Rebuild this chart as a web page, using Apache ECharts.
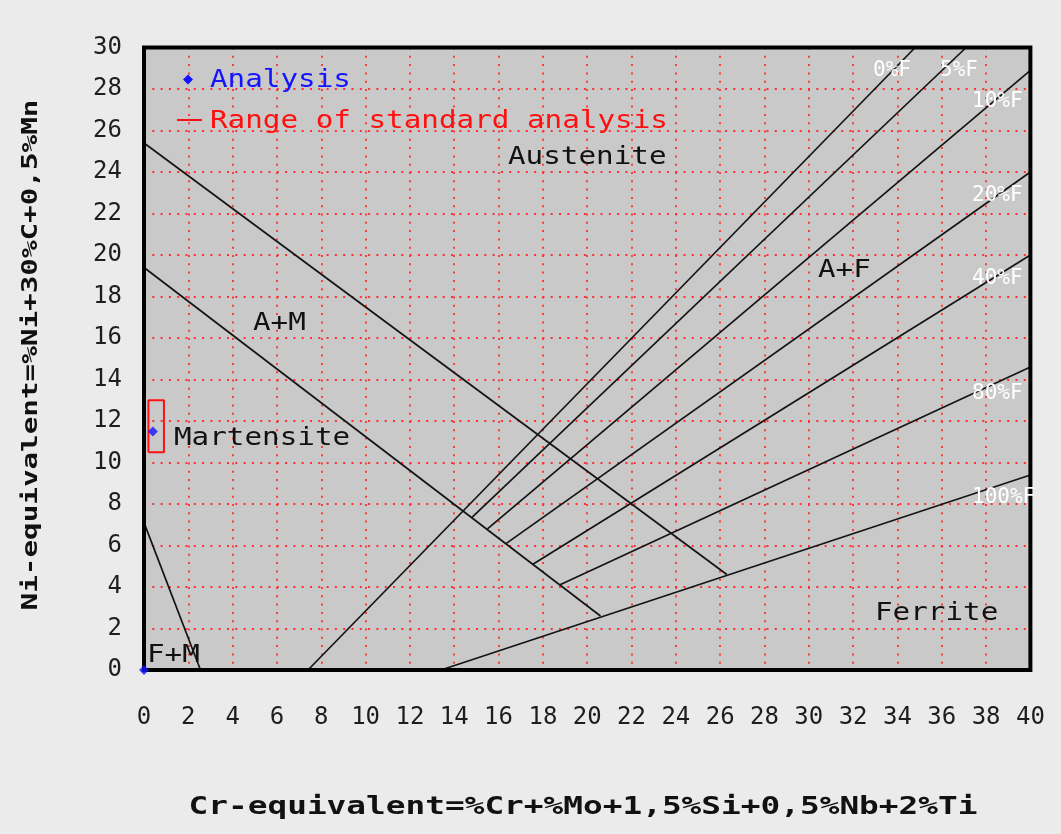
<!DOCTYPE html>
<html>
<head>
<meta charset="utf-8">
<script src="https://cdn.jsdelivr.net/npm/echarts@6/dist/echarts.min.js"></script>
<style>
  html, body { margin: 0; padding: 0; background: #ebebeb; }
  #chart { width: 1061px; height: 834px; }
</style>
</head>
<body>
<div id="chart"></div>
<script>
// Schaeffler diagram: Cr-equivalent (x) vs Ni-equivalent (y)

// Axis ranges
const crRange = [0, 40];
const niRange = [0, 30];
const tickStep = 2;

// Phase boundaries, each as [Cr-eq, Ni-eq] end points
const martensiteUpper = [[0, 25.4], [26.3, 4.6]];
const martensiteLower = [[0, 19.4], [20.6, 2.6]];
const ferriteMartensite = [[0, 7.1], [2.55, 0]];

// Iso-ferrite lines
const isoFerriteNames = ['0%F', '5%F', '10%F', '20%F', '40%F', '80%F', '100%F'];
const isoFerrite0 = [[7.4, 0], [34.8, 30]];
const isoFerrite5 = [[14.8, 7.35], [37.1, 30]];
const isoFerrite10 = [[15.5, 6.8], [40, 28.9]];
const isoFerrite20 = [[16.35, 6.1], [40, 24.0]];
const isoFerrite40 = [[17.55, 5.1], [40, 20.0]];
const isoFerrite80 = [[18.75, 4.1], [40, 14.6]];
const isoFerrite100 = [[13.4, 0], [40, 9.4]];

// Measured analysis and range of the standard analysis
const analysisPoints = [[0.4, 11.5], [0, 0]];
const rangeCr = [0.2, 0.9];
const rangeNi = [10.5, 13.0];

// Texts
const regionNames = ['Austenite', 'A+F', 'A+M', 'Martensite', 'Ferrite', 'F+M'];
const legendNames = ['Analysis', 'Range of standard analysis'];
const xTitle = 'Cr-equivalent=%Cr+%Mo+1,5%Si+0,5%Nb+2%Ti';
const yTitle = 'Ni-equivalent=%Ni+30%C+0,5%Mn';

// Plot frame in pixels
const G = { left: 144, top: 47.5, width: 886.4, height: 622.5 };

const MONO = '"DejaVu Sans Mono", "Liberation Mono", monospace';

function label(text, x, y, opts) {
  opts = opts || {};
  return {
    type: 'text', x: x, y: y, z: opts.z || 40,
    scaleX: opts.scaleX || 1,
    rotation: opts.rotation || 0,
    silent: true,
    style: {
      text: text,
      font: (opts.weight || 'normal') + ' ' + (opts.size || 25) + 'px ' + MONO,
      fill: opts.color || '#111',
      align: opts.align || 'left',
      verticalAlign: 'middle'
    }
  };
}

const rangeBox = [
  [rangeCr[0], rangeNi[0]], [rangeCr[1], rangeNi[0]],
  [rangeCr[1], rangeNi[1]], [rangeCr[0], rangeNi[1]],
  [rangeCr[0], rangeNi[0]]
];

const boundaryLines = [martensiteUpper, martensiteLower, ferriteMartensite,
  isoFerrite0, isoFerrite5, isoFerrite10, isoFerrite20, isoFerrite40, isoFerrite80, isoFerrite100];

const series = boundaryLines.map(function (pts) {
  return {
    type: 'line', data: pts, symbol: 'none', silent: true, z: 3,
    lineStyle: { color: '#141414', width: 1.7 }
  };
});
series.push({
  type: 'line', data: rangeBox, symbol: 'none', silent: true, z: 4,
  lineStyle: { color: '#ff1010', width: 2 }
});
series.push({
  type: 'scatter', data: analysisPoints, symbol: 'diamond', symbolSize: 10, z: 60,
  itemStyle: { color: '#1414ff' }
});

const dotted = { color: '#ff3030', width: 1.8, type: [2, 6.3] };

const graphics = [
  // frame
  { type: 'rect', z: 50, silent: true,
    shape: { x: G.left, y: G.top, width: G.width, height: G.height },
    style: { fill: null, stroke: '#000', lineWidth: 4 } },
  // legend
  { type: 'polygon', z: 40, silent: true,
    shape: { points: [[188, 74.5], [193, 79.5], [188, 84.5], [183, 79.5]] },
    style: { fill: '#1414ff' } },
  label(legendNames[0], 210, 80, { color: '#1414ff', scaleX: 1.17 }),
  { type: 'line', z: 40, silent: true,
    shape: { x1: 177, y1: 120, x2: 202, y2: 120 },
    style: { stroke: '#ff1010', lineWidth: 2 } },
  label(legendNames[1], 210, 121, { color: '#ff1010', scaleX: 1.17 }),
  // regions
  label(regionNames[0], 508, 157, { scaleX: 1.17 }),
  label(regionNames[1], 818, 270, { scaleX: 1.17 }),
  label(regionNames[2], 253, 323, { scaleX: 1.17 }),
  label(regionNames[3], 174, 438, { scaleX: 1.17 }),
  label(regionNames[4], 875, 613, { scaleX: 1.17 }),
  label(regionNames[5], 147, 655, { scaleX: 1.17 }),
  // iso-ferrite names
  label(isoFerriteNames[0], 873, 71, { size: 21, color: '#fff', z: 45 }),
  label(isoFerriteNames[1], 940, 71, { size: 21, color: '#fff', z: 45 }),
  label(isoFerriteNames[2], 972, 102, { size: 21, color: '#fff', z: 45 }),
  label(isoFerriteNames[3], 972, 196, { size: 21, color: '#fff', z: 45 }),
  label(isoFerriteNames[4], 972, 279, { size: 21, color: '#fff', z: 45 }),
  label(isoFerriteNames[5], 972, 394, { size: 21, color: '#fff', z: 45 }),
  label(isoFerriteNames[6], 972, 498, { size: 21, color: '#fff', z: 55 }),
  // axis titles
  label(xTitle, 583, 808, { size: 24, weight: 'bold', align: 'center', scaleX: 1.365 }),
  label(yTitle, 31, 355, { size: 22, weight: 'bold', align: 'center', scaleX: 1.33, rotation: Math.PI / 2 })
];

const chart = echarts.init(document.getElementById('chart'), null, { renderer: 'canvas' });
chart.setOption({
  backgroundColor: '#ebebeb',
  animation: false,
  grid: {
    left: G.left, top: G.top, width: G.width, height: G.height,
    show: true, backgroundColor: '#c9c9c9', borderWidth: 0
  },
  xAxis: {
    type: 'value', min: crRange[0], max: crRange[1], interval: tickStep,
    axisLine: { show: false }, axisTick: { show: false },
    axisLabel: { fontFamily: MONO, fontSize: 24, color: '#1e1e1e', margin: 36 },
    splitLine: { show: true, lineStyle: dotted }
  },
  yAxis: {
    type: 'value', min: niRange[0], max: niRange[1], interval: tickStep,
    axisLine: { show: false }, axisTick: { show: false },
    axisLabel: { fontFamily: MONO, fontSize: 24, color: '#1e1e1e', margin: 22 },
    splitLine: { show: true, lineStyle: dotted }
  },
  series: series,
  graphic: graphics
});
</script>
</body>
</html>
